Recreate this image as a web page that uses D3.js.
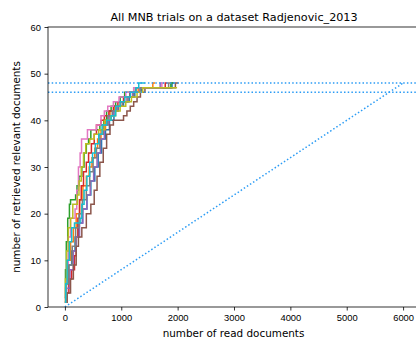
<!DOCTYPE html>
<html>
<head>
<meta charset="utf-8">
<script src="https://cdn.jsdelivr.net/npm/d3@7"></script>
<style>
    html, body { margin: 0; padding: 0; background: #fff; overflow: hidden; }
    svg { display: block; font-family: "DejaVu Sans", sans-serif; }
    .axis path, .axis line { stroke: #000; stroke-width: 0.8; }
    .axis text { fill: #000; font-size: 9.4px; }
</style>
</head>
<body>
<svg id="chart" width="416" height="342"></svg>
<script>
// [documents read, relevant found] - each trial is a recall step curve
const trialBlue = [[0,1],[25,5],[70,9],[120,12],[180,15],[240,18],[310,21],[390,24],[460,27],[530,30],[590,33],[650,36],[720,38],[790,40],[870,42],[950,43],[1040,44],[1140,45],[1240,46],[1360,47],[1900,48],[1940,48]];
const trialOrange = [[0,1],[15,5],[50,10],[100,14],[150,17],[200,20],[260,23],[320,26],[380,28],[430,30],[480,32],[530,34],[580,36],[640,38],[720,40],[800,42],[880,43],[980,44],[1060,45],[1160,46],[1300,47],[1560,48],[1600,48]];
const trialGreen = [[0,2],[10,8],[25,14],[50,19],[80,22],[100,23],[190,24],[215,26],[250,28],[300,30],[340,33],[380,35],[420,36],[460,38],[620,39],[690,40],[740,42],[820,43],[900,44],[980,45],[1060,46],[1250,47],[1880,48],[1920,48]];
const trialRed = [[0,1],[30,3],[70,6],[120,8],[170,11],[200,15],[230,19],[260,23],[290,26],[330,29],[380,31],[420,33],[470,35],[520,37],[560,39],[640,40],[700,41],[780,42],[860,43],[940,44],[1040,45],[1150,46],[1260,47],[1780,48],[1820,48]];
const trialPurple = [[0,2],[30,4],[90,8],[150,12],[200,15],[260,18],[320,21],[390,24],[450,27],[510,30],[570,33],[630,36],[700,39],[780,41],[860,42],[940,43],[1020,44],[1100,45],[1200,46],[1330,47],[1690,48],[1720,48]];
const trialBrown = [[0,1],[40,3],[100,6],[150,9],[200,13],[240,15],[300,17],[380,20],[460,22],[520,25],[570,28],[620,31],[680,34],[740,37],[800,39],[860,40],[1040,41],[1100,42],[1160,43],[1220,44],[1280,45],[1340,46],[1420,47],[1960,48],[2010,48]];
const trialPink = [[0,1],[10,4],[30,9],[60,15],[100,19],[180,21],[210,25],[240,30],[270,33],[295,36],[400,38],[560,39],[640,41],[700,42],[760,43],[860,44],[960,45],[1080,46],[1220,47],[1720,48],[1760,48]];
const trialGray = [[0,2],[20,5],[70,9],[130,13],[190,17],[250,20],[310,23],[380,26],[440,29],[500,32],[560,34],[620,37],[680,39],[760,41],[840,42],[920,43],[1020,44],[1120,45],[1220,46],[1340,47],[1840,48],[1880,48]];
const trialOlive = [[0,1],[10,6],[30,12],[60,17],[100,19],[140,22],[220,24],[250,27],[290,30],[330,33],[370,35],[440,36],[520,37],[600,38],[700,40],[820,41],[900,42],[980,43],[1080,44],[1180,45],[1280,46],[1380,47],[1990,47]];
const trialCyan = [[0,1],[15,5],[40,10],[80,14],[120,17],[170,18],[270,19],[300,22],[340,25],[390,28],[440,31],[490,33],[540,35],[600,37],[660,39],[740,40],[820,41],[900,43],[980,44],[1060,45],[1160,46],[1260,47],[1310,48],[1420,48]];

const trials = [trialBlue, trialOrange, trialGreen, trialRed, trialPurple, trialBrown, trialPink, trialGray, trialOlive, trialCyan];
const trialColors = ['#1f77b4', '#ff7f0e', '#2ca02c', '#d62728', '#9467bd', '#8c564b', '#e377c2', '#7f7f7f', '#bcbd22', '#17becf'];

const totalDocuments = 6000;
const totalRelevant = 48;
const referenceLevels = [48, 46];
const randomLine = [[0, 0], [totalDocuments, totalRelevant]];

const xTicks = [0, 1000, 2000, 3000, 4000, 5000, 6000];
const yTicks = [0, 10, 20, 30, 40, 50, 60];

const d3chart = (function () {

    let svg, plot, xScale, yScale, width, height;
    const margin = { top: 27, left: 48 };

    return { init };

    function init() {
        svg = d3.select('#chart');
        width = 372;
        height = 280;

        // matplotlib style 5% margins on x
        let pad = totalDocuments * 0.05;
        xScale = d3.scaleLinear().domain([-pad, totalDocuments + pad]).range([0, width]);
        yScale = d3.scaleLinear().domain([0, 60]).range([height, 0]);

        plot = svg.append('g').attr('transform', `translate(${margin.left},${margin.top})`);

        svg.append('defs').append('clipPath').attr('id', 'clip')
            .append('rect').attr('width', width).attr('height', height);

        let lines = plot.append('g').attr('clip-path', 'url(#clip)');
        let stepLine = d3.line()
            .x((d) => xScale(d[0]))
            .y((d) => yScale(d[1]))
            .curve(d3.curveStepAfter);

        // Trial curves
        lines.selectAll('path.trial').data(trials).enter().append('path')
            .attr('class', 'trial')
            .attr('d', stepLine)
            .attr('fill', 'none')
            .attr('stroke', (d, i) => trialColors[i])
            .attr('stroke-width', 1.5);

        // Reference lines (dotted)
        lines.selectAll('line.level').data(referenceLevels).enter().append('line')
            .attr('class', 'level')
            .attr('x1', 0).attr('x2', width)
            .attr('y1', (d) => yScale(d)).attr('y2', (d) => yScale(d))
            .attr('stroke', '#2b9cf5')
            .attr('stroke-width', 1.5)
            .attr('stroke-dasharray', '1.5,2.2');

        lines.append('path')
            .attr('d', d3.line().x((d) => xScale(d[0])).y((d) => yScale(d[1]))(randomLine))
            .attr('fill', 'none')
            .attr('stroke', '#2b9cf5')
            .attr('stroke-width', 1.5)
            .attr('stroke-dasharray', '1.5,2.2');

        // Axes
        let xAxis = d3.axisBottom(xScale).tickValues(xTicks).tickSize(3.5).tickPadding(3.5).tickFormat(d3.format('d'));
        let yAxis = d3.axisLeft(yScale).tickValues(yTicks).tickSize(3.5).tickPadding(3.5);

        plot.append('g').attr('class', 'axis').attr('transform', `translate(0,${height})`).call(xAxis)
            .select('.domain').remove();
        plot.append('g').attr('class', 'axis').call(yAxis)
            .select('.domain').remove();

        // Frame
        plot.append('rect')
            .attr('width', width).attr('height', height)
            .attr('fill', 'none').attr('stroke', '#000').attr('stroke-width', 0.8);

        // Labels
        svg.append('text')
            .attr('x', margin.left + width / 2).attr('y', 21)
            .attr('text-anchor', 'middle').attr('font-size', '11.2px')
            .text('All MNB trials on a dataset Radjenovic_2013');

        svg.append('text')
            .attr('x', margin.left + width / 2 - 0.5).attr('y', 337)
            .attr('text-anchor', 'middle').attr('font-size', '10.4px')
            .text('number of read documents');

        svg.append('text')
            .attr('transform', `translate(20,${margin.top + height / 2}) rotate(-90)`)
            .attr('text-anchor', 'middle').attr('font-size', '10.4px')
            .text('number of retrieved relevant documents');
    }

})();

d3chart.init();
</script>
</body>
</html>
